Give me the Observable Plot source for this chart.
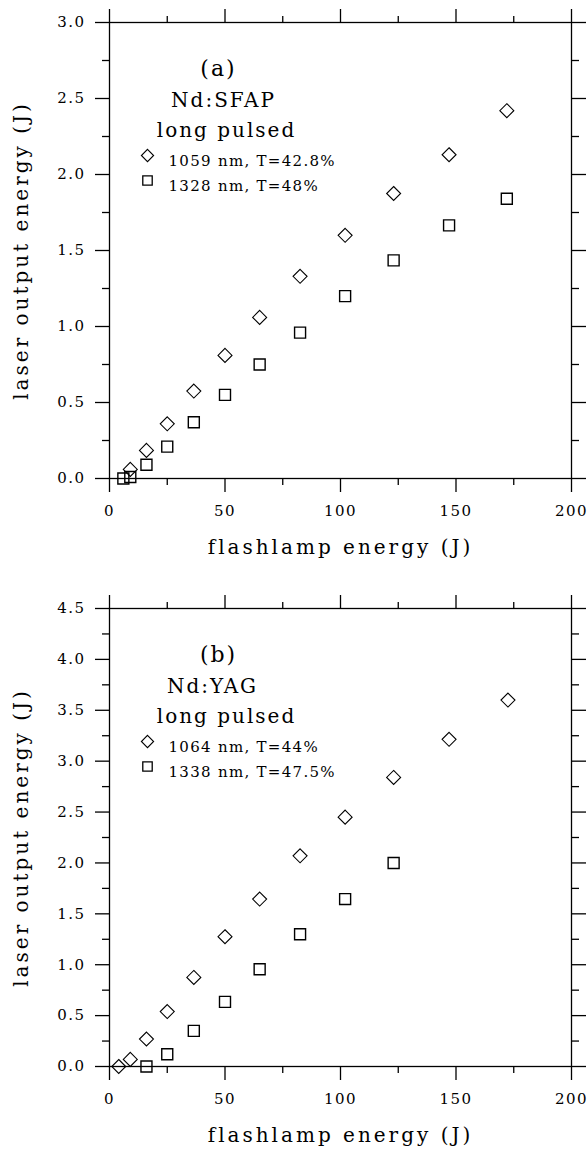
<!DOCTYPE html>
<html>
<head>
<meta charset="utf-8">
<script src="https://cdn.jsdelivr.net/npm/d3@7"></script>
<script src="https://cdn.jsdelivr.net/npm/@observablehq/plot@0.6"></script>
<style>
  body { margin: 0; background: #fff; }
  #chart svg { display: block; }
</style>
</head>
<body>
<div id="chart"></div>
<script>
// ---- Panel (a): Nd:SFAP ----
const flashA1059 = [9, 16, 25, 36.5, 50, 65, 82.5, 102, 123, 147, 172];
const outA1059   = [0.06, 0.185, 0.36, 0.575, 0.81, 1.06, 1.33, 1.60, 1.875, 2.13, 2.42];
const flashA1328 = [6, 9, 16, 25, 36.5, 50, 65, 82.5, 102, 123, 147, 172];
const outA1328   = [0.0, 0.01, 0.09, 0.21, 0.37, 0.55, 0.75, 0.96, 1.20, 1.435, 1.665, 1.84];

// ---- Panel (b): Nd:YAG ----
const flashB1064 = [4, 9, 16, 25, 36.5, 50, 65, 82.5, 102, 123, 147, 172.5];
const outB1064   = [0.0, 0.07, 0.27, 0.54, 0.875, 1.275, 1.645, 2.07, 2.45, 2.84, 3.215, 3.6];
const flashB1338 = [16, 25, 36.5, 50, 65, 82.5, 102, 123];
const outB1338   = [0.0, 0.12, 0.35, 0.635, 0.955, 1.30, 1.645, 2.0];

// ---- Axis ticks and labels ----
const xMajorTicks = [0, 50, 100, 150, 200];
const xMinorTicks = [25, 75, 125, 175];
const yMaxA = 3.0;
const yMaxB = 4.5;
const xTitle = "flashlamp energy (J)";
const yTitle = "laser output energy (J)";
const panelLetters = ["(a)", "(b)"];
const materials = ["Nd:SFAP", "Nd:YAG"];
const pulseMode = "long pulsed";
const legendA = ["1059 nm, T=42.8%", "1328 nm, T=48%"];
const legendB = ["1064 nm, T=44%", "1338 nm, T=47.5%"];

function panel({xD, yD, xS, yS, ymax, letter, material, legend, height, marginBottom, materialDx}) {
  const diamonds = xD.map((x, i) => ({x, y: yD[i]}));
  const squares = xS.map((x, i) => ({x, y: yS[i]}));
  const yMajor = d3.range(0, ymax + 1e-9, 0.5);
  const yMinor = d3.range(0.25, ymax, 0.5);
  const sw = 1.3;
  const svg = Plot.plot({
    width: 588,
    height,
    marginLeft: 109,
    marginRight: 17,
    marginTop: 22,
    marginBottom,
    x: {domain: [0, 200]},
    y: {domain: [0, ymax]},
    style: {fontFamily: "'DejaVu Serif', serif", background: "white", color: "black"},
    marks: [
      Plot.frame({stroke: "black", strokeWidth: sw}),
      Plot.axisX({anchor: "bottom", ticks: xMajorTicks, tickSize: 14, tickPadding: 13, tickFormat: d3.format("d"), fontSize: 15, label: null, strokeWidth: sw}),
      Plot.axisX({anchor: "bottom", ticks: xMinorTicks, tickSize: 7, fill: "none", label: null, strokeWidth: sw}),
      Plot.axisX({anchor: "top", ticks: xMajorTicks, tickSize: 14, fill: "none", label: null, strokeWidth: sw}),
      Plot.axisX({anchor: "top", ticks: xMinorTicks, tickSize: 7, fill: "none", label: null, strokeWidth: sw}),
      Plot.axisY({anchor: "left", ticks: yMajor, tickSize: 14, tickPadding: 10, tickFormat: d3.format(".1f"), fontSize: 15, label: null, strokeWidth: sw}),
      Plot.axisY({anchor: "left", ticks: yMinor, tickSize: 7, fill: "none", label: null, strokeWidth: sw}),
      Plot.axisY({anchor: "right", ticks: yMajor, tickSize: 14, fill: "none", label: null, strokeWidth: sw}),
      Plot.axisY({anchor: "right", ticks: yMinor, tickSize: 7, fill: "none", label: null, strokeWidth: sw}),
      Plot.dot(squares, {x: "x", y: "y", symbol: "square2", r: 7, stroke: "black", strokeWidth: 1.4}),
      Plot.dot(diamonds, {x: "x", y: "y", symbol: "diamond2", r: 6.3, stroke: "black", strokeWidth: 1.1}),
      // annotations
      Plot.text([letter], {frameAnchor: "top-left", dx: 109, dy: 38, fontSize: 22, textAnchor: "middle"}),
      Plot.text([material], {frameAnchor: "top-left", dx: materialDx, dy: 70, fontSize: 20, textAnchor: "middle"}),
      Plot.text([pulseMode], {frameAnchor: "top-left", dx: 117, dy: 100, fontSize: 20, textAnchor: "middle"}),
      Plot.dot([legend[0]], {frameAnchor: "top-left", dx: 38, dy: 133, symbol: "diamond2", r: 5.5, stroke: "black", strokeWidth: 1.1}),
      Plot.dot([legend[1]], {frameAnchor: "top-left", dx: 38, dy: 158, symbol: "square2", r: 6, stroke: "black", strokeWidth: 1.3}),
      Plot.text([legend[0]], {frameAnchor: "top-left", dx: 59, dy: 133, fontSize: 15, textAnchor: "start"}),
      Plot.text([legend[1]], {frameAnchor: "top-left", dx: 59, dy: 158, fontSize: 15, textAnchor: "start"}),
      // axis titles
      Plot.text([xTitle], {frameAnchor: "bottom", dy: 75, fontSize: 20, textAnchor: "middle"}),
      Plot.text([yTitle], {frameAnchor: "left", dx: -88, rotate: -90, fontSize: 20, textAnchor: "middle"})
    ]
  });
  svg.querySelectorAll("text").forEach(t => {
    const s = t.textContent;
    if (s === xTitle || s === yTitle) t.style.letterSpacing = "3px";
    else if (s === material || s === pulseMode) t.style.letterSpacing = "2px";
    else if (legend.includes(s)) t.style.letterSpacing = "1.3px";
    else if (s === letter) t.style.letterSpacing = "2px";
    else t.style.letterSpacing = "1.5px";
  });
  return svg;
}

const chart = document.getElementById("chart");
chart.appendChild(panel({xD: flashA1059, yD: outA1059, xS: flashA1328, yS: outA1328, ymax: yMaxA,
  letter: panelLetters[0], material: materials[0], legend: legendA, height: 586, marginBottom: 108, materialDx: 114}));
chart.appendChild(panel({xD: flashB1064, yD: outB1064, xS: flashB1338, yS: outB1338, ymax: yMaxB,
  letter: panelLetters[1], material: materials[1], legend: legendB, height: 568, marginBottom: 88, materialDx: 103}));
</script>
</body>
</html>
